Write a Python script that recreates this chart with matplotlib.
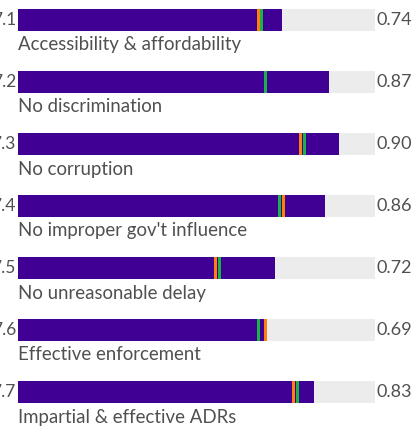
import matplotlib
matplotlib.use("Agg")
import matplotlib.pyplot as plt

codes = ["7.1", "7.2", "7.3", "7.4", "7.5", "7.6", "7.7"]
labels = ["Accessibility & affordability", "No discrimination", "No corruption",
          "No improper gov't influence", "No unreasonable delay",
          "Effective enforcement", "Impartial & effective ADRs"]
scores = [0.74, 0.87, 0.90, 0.86, 0.72, 0.69, 0.83]
orange_vals = [0.674, 0.693, 0.791, 0.744, 0.553, 0.693, 0.772]
green_vals = [0.682, 0.693, 0.803, 0.732, 0.564, 0.674, 0.783]

W, H, DPI = 416, 430, 100
fig = plt.figure(figsize=(W / DPI, H / DPI), dpi=DPI)
x0, x1 = 18, 375
ax = fig.add_axes([x0 / W, 0, (x1 - x0) / W, 1])
row_px = 62
first_center = 20
ax.set_xlim(0, 1)
ax.set_ylim((H - first_center) / row_px, -first_center / row_px)
ax.axis("off")

purple = "#400094"
orange = "#ff7f0e"
green = "#19b34a"
bg = "#ececec"
txt = "#505050"
font = "Lato"
bh = 22 / row_px
mw = 3 / (x1 - x0)

ys = list(range(len(codes)))
ax.barh(ys, [1] * len(ys), height=bh, color=bg, left=0)
ax.barh(ys, scores, height=bh, color=purple, left=0)
ax.barh(ys, [mw] * len(ys), left=[v - mw / 2 for v in orange_vals], height=bh, color=orange)
ax.barh(ys, [mw] * len(ys), left=[v - mw / 2 for v in green_vals], height=bh, color=green)

for i in ys:
    ax.text(-2 / (x1 - x0), i, codes[i], ha="right", va="center", fontsize=12.5,
            color=txt, family=font, clip_on=False)
    ax.text(1 + 2 / (x1 - x0), i, f"{scores[i]:.2f}", ha="left", va="center",
            fontsize=13, color=txt, family=font, clip_on=False)
    ax.text(0, i + 25 / row_px, labels[i], ha="left", va="center", fontsize=13.4,
            color=txt, family=font, clip_on=False)

fig.savefig("out.png", dpi=DPI)
